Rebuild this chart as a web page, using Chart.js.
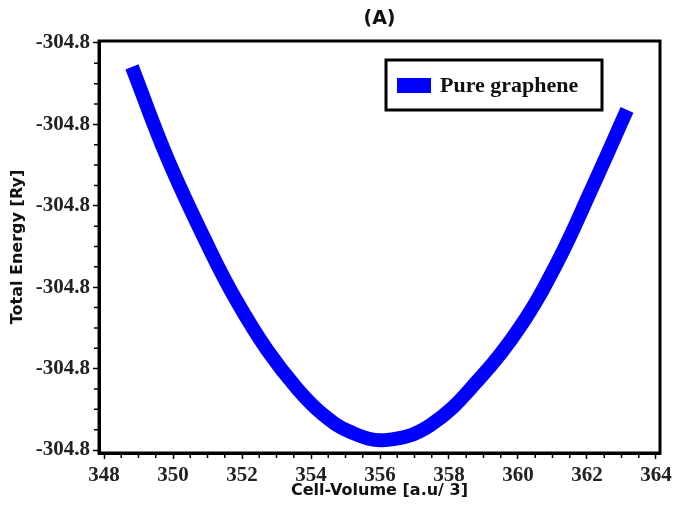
<!DOCTYPE html>
<html>
<head>
<meta charset="utf-8">
<script src="https://cdn.jsdelivr.net/npm/chart.js@4"></script>
<style>
  html, body { margin: 0; padding: 0; background: #fff; }
  #box { width: 676px; height: 513px; }
</style>
</head>
<body>
<div id="box"><canvas id="grafico"></canvas></div>
<script>
// cell volume (a.u^3) vs total energy (Ry)
const volumen = [348.81, 349.86, 351.07, 351.83, 352.73, 353.62, 354.35, 355.13, 356.15, 357.45, 358.90, 360.06, 361.13, 362.12, 363.16]
const energia = [-304.76147, -304.76719, -304.77271, -304.77579, -304.77886, -304.78128, -304.78282, -304.78388, -304.78439, -304.78348, -304.78058, -304.77744, -304.77351, -304.76903, -304.76411]

const xTicks = [348, 350, 352, 354, 356, 358, 360, 362, 364]
const yTicks = [-304.785, -304.780, -304.775, -304.770, -304.765, -304.760]

const etiqueta = "Pure graphene"
const colorLinea = "#0000ff"

const puntos = volumen.map((v, i) => ({ x: v, y: energia[i] }))

// marco negro + ticks menores + leyenda con borde
const marco = {
  id: "marco",
  afterDraw(chart) {
    const { ctx, chartArea: a, scales: { x, y } } = chart
    ctx.save()
    ctx.strokeStyle = "#000"
    ctx.lineWidth = 3
    ctx.strokeRect(a.left, a.top, a.right - a.left, a.bottom - a.top)

    ctx.lineWidth = 1.5
    ctx.beginPath()
    for (let i = 0; i < xTicks.length - 1; i++) {
      for (let k = 1; k < 4; k++) {
        const px = x.getPixelForValue(xTicks[i] + k * 0.5)
        ctx.moveTo(px, a.bottom)
        ctx.lineTo(px, a.bottom + 5)
      }
    }
    for (let i = 0; i < yTicks.length - 1; i++) {
      for (let k = 1; k < 4; k++) {
        const py = y.getPixelForValue(yTicks[i] + k * 0.00125)
        ctx.moveTo(a.left, py)
        ctx.lineTo(a.left - 5, py)
      }
    }
    ctx.stroke()

    // leyenda
    const bx = a.right - 274, by = a.top + 19, bw = 216, bh = 50
    ctx.fillStyle = "#fff"
    ctx.fillRect(bx, by, bw, bh)
    ctx.lineWidth = 3
    ctx.strokeRect(bx, by, bw, bh)
    ctx.fillStyle = chart.data.datasets[0].borderColor
    ctx.fillRect(bx + 11, by + 18, 34, 15)
    ctx.fillStyle = "#111"
    ctx.font = "bold 22px 'Liberation Serif'"
    ctx.textBaseline = "middle"
    ctx.fillText(chart.data.datasets[0].label, bx + 54, by + 26)
    ctx.restore()
  }
}

const data = {
  datasets: [
    {
      label: etiqueta,
      data: puntos,
      borderColor: colorLinea,
      backgroundColor: colorLinea,
      borderWidth: 14,
      pointRadius: 0,
      tension: 0.4,
      fill: false
    }
  ]
}

const fuenteTicks = { family: "'Liberation Serif'", size: 21, weight: "bold" }
const fuenteTitulo = { family: "'DejaVu Sans'", size: 16, weight: "bold" }

const config = {
  type: "line",
  data: data,
  options: {
    responsive: false,
    animation: false,
    layout: { padding: { left: 0, right: 16, top: 0, bottom: 0 } },
    plugins: {
      legend: { display: false },
      tooltip: { enabled: false },
      title: {
        display: true,
        fullSize: false,
        text: "(A)",
        color: "#111",
        font: { family: "'DejaVu Sans'", size: 19, weight: "bold" },
        padding: { top: 8, bottom: 10.2 }
      }
    },
    scales: {
      x: {
        type: "linear",
        min: 347.855,
        max: 364.116,
        afterBuildTicks: (s) => { s.ticks = xTicks.map(v => ({ value: v })) },
        afterFit: (s) => { s.height = 60 },
        border: { display: true, color: "#000", width: 3 },
        grid: { drawOnChartArea: false, drawTicks: true, tickLength: 6, tickWidth: 1.5, tickColor: "#000" },
        ticks: { color: "#222", font: fuenteTicks, padding: 4, maxRotation: 0, callback: (v) => v },
        title: { display: true, text: "Cell-Volume [a.u/ 3]", color: "#111", font: fuenteTitulo, padding: { top: 0, bottom: 13 } }
      },
      y: {
        min: -304.78518,
        max: -304.75988,
        afterBuildTicks: (s) => { s.ticks = yTicks.map(v => ({ value: v })) },
        afterFit: (s) => { s.width = 99 },
        border: { display: true, color: "#000", width: 3 },
        grid: { drawOnChartArea: false, drawTicks: true, tickLength: 6, tickWidth: 1.5, tickColor: "#000" },
        ticks: { color: "#222", font: fuenteTicks, padding: 3, callback: (v) => v.toFixed(1) },
        title: { display: true, text: "Total Energy [Ry]", color: "#111", font: fuenteTitulo, padding: { top: 8, bottom: 0 } }
      }
    }
  },
  plugins: [marco]
}

const canvas = document.getElementById("grafico")
canvas.width = 676
canvas.height = 513
const myChart = new Chart(canvas, config)
</script>
</body>
</html>
